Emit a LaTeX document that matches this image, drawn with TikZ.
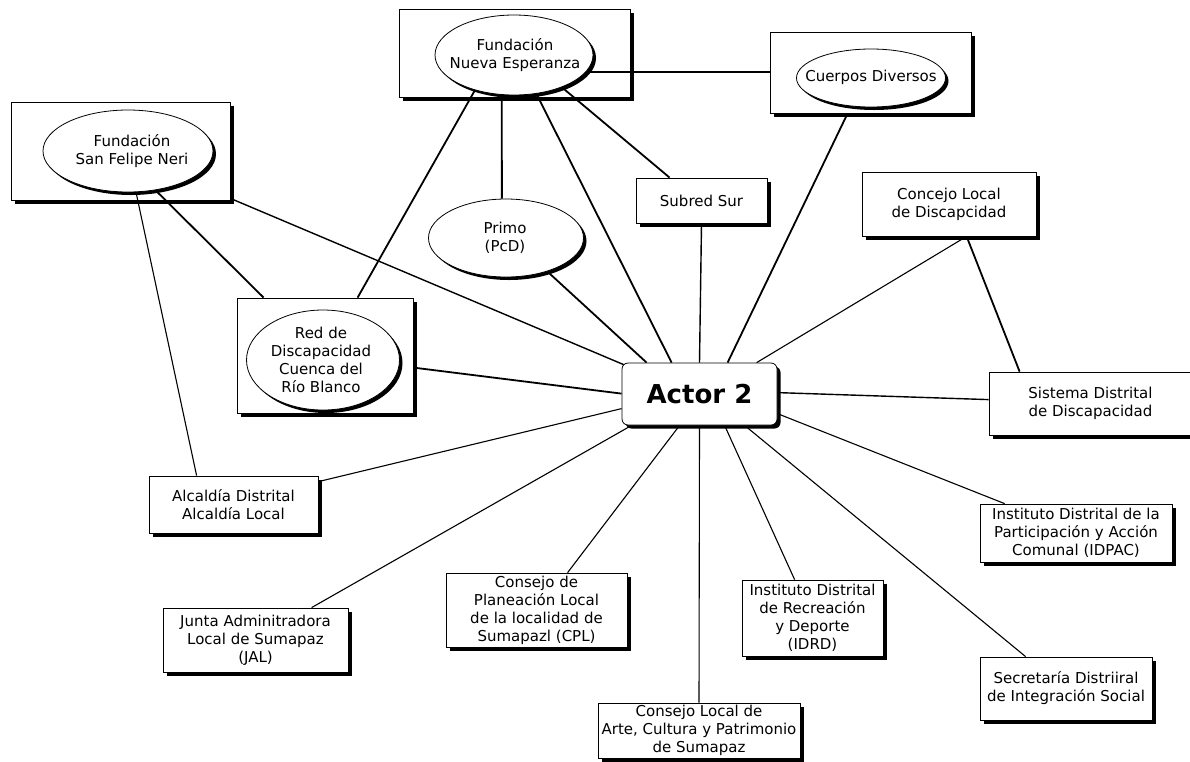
\documentclass[tikz,border=0pt]{standalone}
\usepackage{fontspec}
\setmainfont{DejaVu Sans}
\usetikzlibrary{shapes.geometric,shadows,calc}
\pgfdeclarelayer{back}
\pgfdeclarelayer{edges}
\pgfsetlayers{back,edges,main}
\begin{document}
\begin{tikzpicture}[x=1pt,y=-1pt,
  every node/.style={font=\fontsize{15}{18}\selectfont, inner sep=0pt, align=center},
  dshadow/.style={drop shadow={shadow xshift=3.5pt,shadow yshift=-3.5pt,fill=black,opacity=1}},
  box/.style={draw, fill=white, line width=0.8pt, dshadow},
  oval/.style={ellipse, draw, fill=white, line width=0.8pt,
    drop shadow={shadow xshift=3pt,shadow yshift=-3pt,fill=black,opacity=1}},
  thk/.style={line width=1.8pt},
  med/.style={line width=1.4pt},
  thn/.style={line width=1.1pt}]
\useasboundingbox (0,0) rectangle (1190,761);

% containers
\begin{pgfonlayer}{back}
\node[box, minimum width=231pt, minimum height=88pt] (fneBox) at (514.5,53) {};
\node[box, minimum width=201pt, minimum height=81pt] (cdBox) at (870.5,72.5) {};
\node[box, minimum width=219pt, minimum height=98pt] (fsfnBox) at (120.5,151) {};
\node[box, minimum width=176pt, minimum height=115pt] (redBox) at (325,355.5) {};
\end{pgfonlayer}

% ellipses
\node[oval, minimum width=158pt, minimum height=80pt] (fne) at (514,55) {};
\node (fneT) at (515,55.5) {Fundación\\Nueva Esperanza};
\node[oval, minimum width=149pt, minimum height=58pt] (cd) at (871,78) {};
\node (cdT) at (871,77) {Cuerpos Diversos};
\node[oval, minimum width=170pt, minimum height=82pt] (fsfn) at (128,151) {};
\node (fsfnT) at (132,151) {Fundación\\San Felipe Neri};
\node[oval, minimum width=155pt, minimum height=78pt] (primo) at (506,238) {};
\node (primoT) at (505,238) {Primo\\(PcD)};
\node[oval, minimum width=153pt, minimum height=100pt] (red) at (323,360) {};
\node (redT) at (321,360) {Red de\\Discapacidad\\Cuenca del\\Río Blanco};

% boxes
\node[box, rounded corners=6pt, minimum width=155pt, minimum height=62pt,
  font=\fontsize{26}{30}\selectfont\bfseries] (actor) at (699.5,394) {Actor 2};
\node[box, minimum width=131pt, minimum height=45pt] (subred) at (701.5,200.5) {Subred Sur};
\node[box, minimum width=174pt, minimum height=64pt] (concejo) at (949,204) {Concejo Local\\de Discapcidad};
\node[box, minimum width=203pt, minimum height=63pt] (sistema) at (1090.5,403.5) {Sistema Distrital\\de Discapacidad};
\node[box, minimum width=169pt, minimum height=57pt] (alcaldia) at (233.5,504.5) {Alcaldía Distrital\\Alcaldía Local};
\node[box, minimum width=185pt, minimum height=64pt] (junta) at (255.5,640) {Junta Adminitradora\\Local de Sumapaz\\(JAL)};
\node[box, minimum width=181pt, minimum height=74pt] (cpl) at (536.5,610) {Consejo de\\Planeación Local\\de la localidad de\\Sumapazl (CPL)};
\node[box, minimum width=202pt, minimum height=55pt] (arte) at (699,730.5) {Consejo Local de\\Arte, Cultura y Patrimonio\\de Sumapaz};
\node[box, minimum width=141pt, minimum height=76pt] (idrd) at (812.5,618) {Instituto Distrital\\de Recreación\\y Deporte\\(IDRD)};
\node[box, minimum width=192pt, minimum height=58pt] (idpac) at (1076,533) {Instituto Distrital de la\\Participación y Acción\\Comunal (IDPAC)};
\node[box, minimum width=172pt, minimum height=63pt] (secretaria) at (1066,688.5) {Secretaría Distriiral\\de Integración Social};

% connectors
\begin{pgfonlayer}{edges}
\draw[thk] (fne.-13) -- (fne.-13 -| cdBox.west);
\draw[thk] (fne.-138) -- ($(redBox.north west)+(121,0)$);
\draw[thk] (fne.-107) -- (primo.96);
\draw[thk] (fne.-60) -- ($(actor.north west)+(50,0)$);
\draw[thk] (fne.-34) -- ($(subred.north west)+(34,0)$);
\draw[thk] ($(cdBox.south west)+(78,0)$) -- ($(actor.north west)+(106,0)$);
\draw[med] (subred.south) -- (actor.north);
\draw[thn] ($(concejo.south west)+(105,0)$) -- ($(actor.north west)+(135,0)$);
\draw[thk] ($(concejo.south west)+(105,0)$) -- ($(sistema.north west)+(31,0)$);
\draw[med] ($(actor.north east)+(0,30)$) -- ($(sistema.north west)+(0,28)$);
\draw[med] ($(fsfnBox.south east)+(0,-2)$) -- ($(actor.north west)+(2,2)$);
\draw[thk] (fsfn.-55) -- ($(redBox.north west)+(27,0)$);
\draw[thn] (fsfn.-79) -- ($(alcaldia.north west)+(48,0)$);
\draw[thk] (primo.-39) -- ($(actor.north west)+(25,0)$);
\draw[thk] ($(redBox.north east)+(0,70)$) -- ($(actor.north west)+(0,31)$);
\draw[thn] ($(alcaldia.north east)+(0,6)$) -- ($(actor.north west)+(0,46)$);
\draw[thn] ($(junta.north west)+(149,0)$) -- ($(actor.south west)+(10,0)$);
\draw[thn] ($(cpl.north west)+(122,0)$) -- ($(actor.south west)+(58,0)$);
\draw[thn] (arte.north) -- (actor.south);
\draw[thn] ($(idrd.north west)+(53,0)$) -- ($(actor.south west)+(103,0)$);
\draw[thn] ($(secretaria.north west)+(46,0)$) -- ($(actor.south west)+(123,0)$);
\draw[thn] ($(idpac.north west)+(25,0)$) -- ($(actor.north east)+(0,51)$);
\end{pgfonlayer}
\end{tikzpicture}
\end{document}
